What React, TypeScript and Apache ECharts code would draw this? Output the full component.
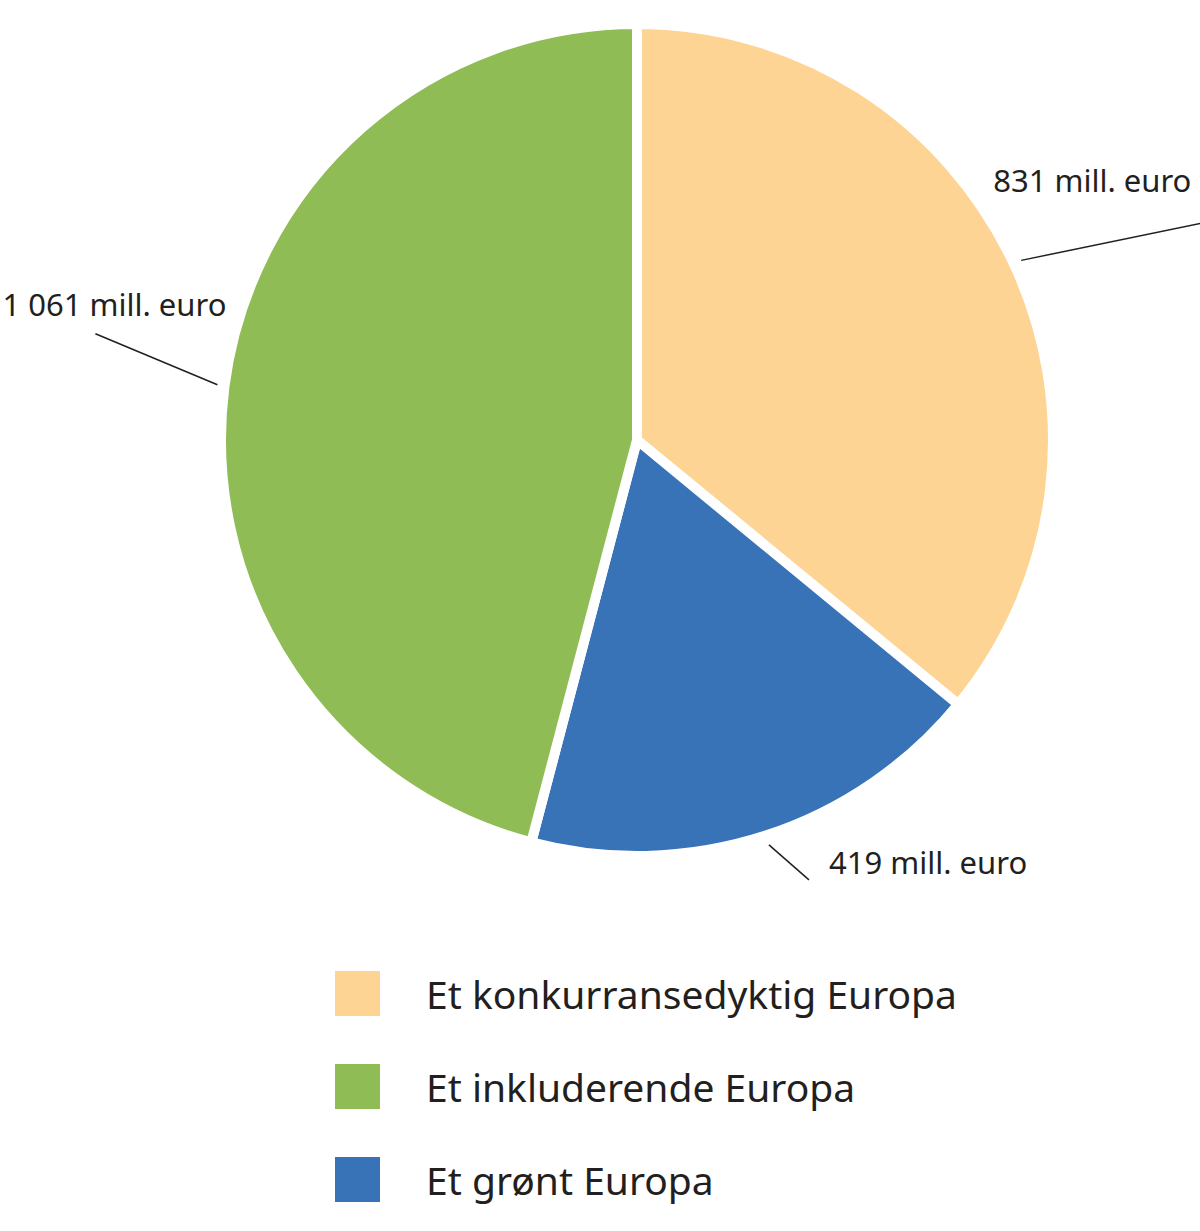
import * as echarts from "echarts";
import { useEffect, useRef } from "react";

const categories = ["Et konkurransedyktig Europa", "Et grønt Europa", "Et inkluderende Europa"];
const values = [831, 419, 1061];
const valueLabels = ["831 mill. euro", "419 mill. euro", "1 061 mill. euro"];
const colors = ["#fdd493", "#3873b8", "#8fbc55"];
const legendOrder = ["Et konkurransedyktig Europa", "Et inkluderende Europa", "Et grønt Europa"];

// label placement relative to the slice's edge point: [lineStart, lineEnd, labelPos]
const labelOffsets = [
  [[8, -2], [192, -40], [-20, -82]],
  [[4, 9], [44, 44], [64, 26]],
  [[-7, -2], [-129, -53], [-222, -83]],
];

const FONT = "Noto Sans";

const App = () => {
  const chartRef = useRef<HTMLDivElement>(null);

  useEffect(() => {
    if (!chartRef.current) return;
    const myChart = echarts.init(chartRef.current, undefined, { renderer: "svg" });

    const option = {
      animation: false,
      legend: {
        orient: "vertical",
        left: 328,
        top: 964,
        itemWidth: 47,
        itemHeight: 47,
        itemGap: 44,
        icon: "rect",
        data: legendOrder,
        selectedMode: false,
        textStyle: {
          fontFamily: FONT,
          fontSize: 39,
          color: "#231f20",
          padding: [0, 0, 0, 40],
        },
      },
      series: [
        {
          type: "pie",
          center: [637, 440],
          radius: 416,
          startAngle: 90,
          clockwise: true,
          itemStyle: {
            borderColor: "#ffffff",
            borderWidth: 10,
          },
          label: {
            show: true,
            position: "outside",
            overflow: "none",
            fontFamily: FONT,
            fontSize: 31,
            color: "#231f20",
            formatter: (p: any) => valueLabels[p.dataIndex],
          },
          labelLine: {
            show: true,
            length: 10,
            length2: 0,
            lineStyle: { color: "#231f20", width: 1.5 },
          },
          labelLayout: (params: any) => {
            const pts = params.labelLinePoints;
            if (!pts) return {};
            const [ex, ey] = pts[0];
            const [s, e, l] = labelOffsets[params.dataIndex];
            return {
              x: ex + l[0],
              y: ey + l[1],
              align: "left",
              verticalAlign: "middle",
              labelLinePoints: [
                [ex + s[0], ey + s[1]],
                [ex + e[0], ey + e[1]],
                [ex + e[0], ey + e[1]],
              ],
            };
          },
          data: categories.map((name, i) => ({
            name,
            value: values[i],
            itemStyle: { color: colors[i] },
          })),
        },
      ],
    };

    myChart.setOption(option);
    return () => {
      myChart.dispose();
    };
  }, []);

  return (
    <div
      ref={chartRef}
      style={{ position: "absolute", left: 0, top: 0, width: "1200px", height: "1231px", background: "#fff" }}
    />
  );
};

export default App;
